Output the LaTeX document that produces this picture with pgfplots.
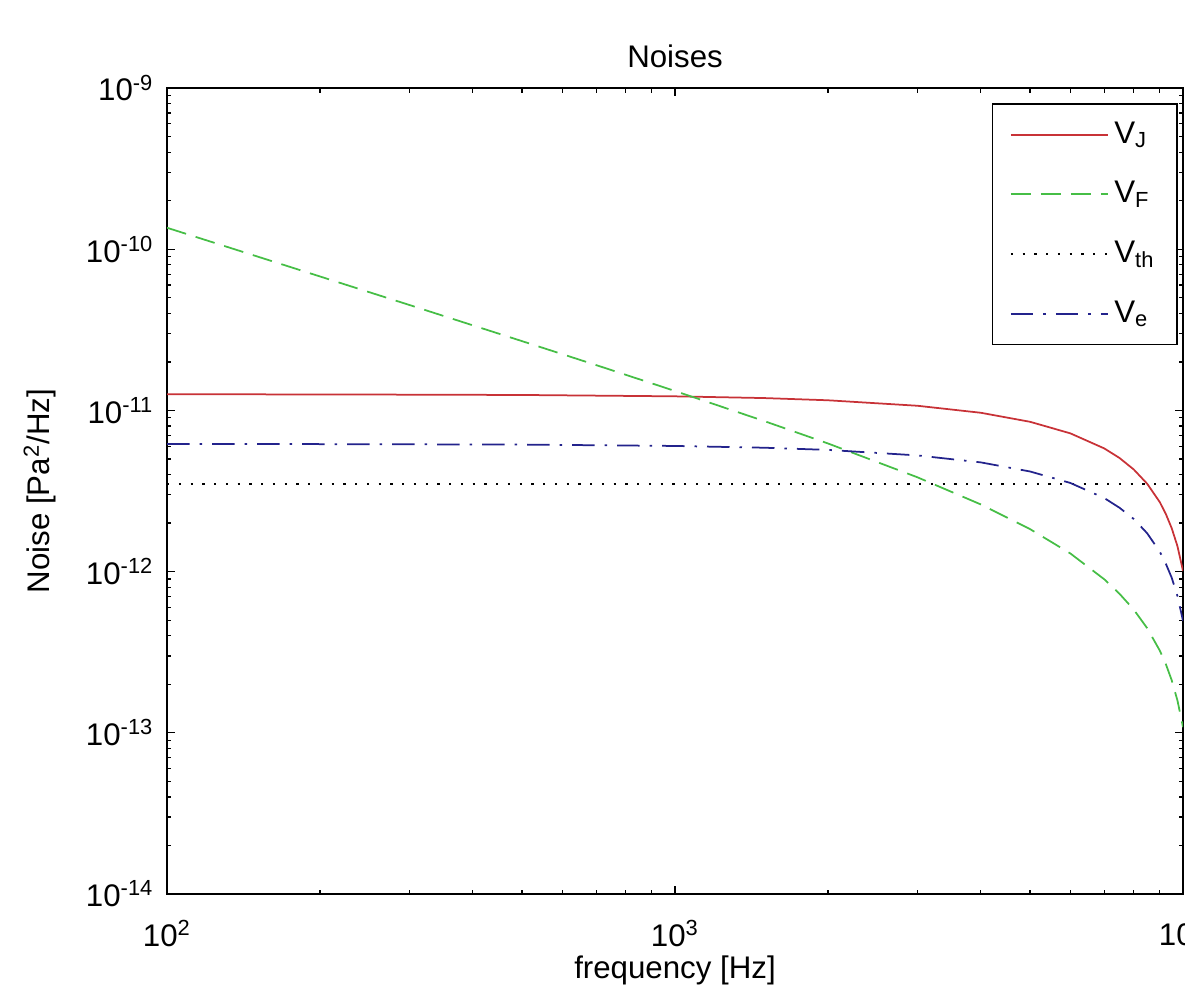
\documentclass[border=0pt]{standalone}
\usepackage{fontspec}
\setmainfont{Liberation Sans}
\usepackage{pgfplots}
\pgfplotsset{compat=1.18}

\definecolor{cred}{RGB}{200,50,55}
\definecolor{cgreen}{RGB}{70,190,70}
\definecolor{cblue}{RGB}{35,35,140}

\begin{document}
\fontsize{12.5}{15}\selectfont
\begin{tikzpicture}
\begin{axis}[name=ax, scale only axis, width=406.4pt, height=322.4pt,
  xmode=log, ymode=log, xmin=100, xmax=10000, ymin=1e-14, ymax=1e-9,
  xtick={100,1000,10000},
  xticklabels={10\textsuperscript{2},10\textsuperscript{3},10\textsuperscript{4}},
  ytick={1e-14,1e-13,1e-12,1e-11,1e-10,1e-9},
  yticklabels={10\textsuperscript{-14},10\textsuperscript{-13},10\textsuperscript{-12},10\textsuperscript{-11},10\textsuperscript{-10},10\textsuperscript{-9}},
  tick align=inside, xtick pos=both, ytick pos=both,
  major tick length=3.2pt, minor tick length=1.8pt,
  every tick/.style={black, line width=0.5pt},
  axis line style={line width=0.6pt},
  tick label style={font=\fontsize{12.5}{15}\selectfont},
  xticklabel style={yshift=-6pt},
  yticklabel style={xshift=-1pt},
  title={Noises},
  title style={at={(0.5,1)}, anchor=south, yshift=-2.2pt, font=\fontsize{12.5}{15}\selectfont},
  xlabel={frequency [Hz]},
  xlabel style={at={(0.5,0)}, anchor=center, yshift=-30.4pt, font=\fontsize{12.5}{15}\selectfont},
  ylabel={Noise [Pa\textsuperscript{2}/Hz]},
  ylabel style={at={(0,0.5)}, anchor=center, xshift=0pt, yshift=50.8pt, font=\fontsize{12.5}{15}\selectfont},
  legend style={at={(0.995,0.981)}, anchor=north east, draw=black, line width=0.6pt,
    fill=white, inner xsep=7pt, inner ysep=5pt, row sep=9.4pt,
    font=\fontsize{12.5}{15}\selectfont},
  legend cell align=left,
  legend image code/.code={\draw[#1] (0pt,0pt) -- (39pt,0pt);},
]
\addplot[cred, line width=0.7pt] coordinates {
(100,1.259e-11) (200,1.257e-11) (500,1.247e-11) (1000,1.223e-11) (1500,1.193e-11)
(2000,1.156e-11) (3000,1.069e-11) (4000,9.67e-12) (5000,8.50e-12) (6000,7.21e-12)
(7000,5.81e-12) (7500,5.07e-12) (8000,4.30e-12) (8500,3.51e-12) (9000,2.70e-12)
(9250,2.28e-12) (9500,1.86e-12) (9750,1.44e-12) (10000,1.01e-12)};
\addlegendentry{V\textsubscript{J}}
\addplot[cgreen, line width=0.7pt, dash pattern=on 8pt off 4pt] coordinates {
(100,1.359e-10) (150,9.05e-11) (200,6.78e-11) (300,4.51e-11) (500,2.69e-11)
(700,1.910e-11) (1000,1.320e-11) (1500,8.58e-12) (2000,6.24e-12) (3000,3.85e-12)
(4000,2.61e-12) (5000,1.835e-12) (6000,1.297e-12) (7000,8.96e-13) (7500,7.29e-13)
(8000,5.81e-13) (8500,4.46e-13) (9000,3.24e-13) (9250,2.67e-13) (9500,2.12e-13)
(9750,1.59e-13) (10000,1.085e-13)};
\addlegendentry{V\textsubscript{F}}
\addplot[black, line width=0.7pt, dash pattern=on 0.9pt off 3.8pt] coordinates {
(100,3.5e-12) (10000,3.5e-12)};
\addlegendentry{V\textsubscript{th}}
\addplot[cblue, line width=0.7pt, dash pattern=on 9pt off 4pt on 1pt off 4pt] coordinates {
(100,6.19e-12) (200,6.18e-12) (500,6.14e-12) (1000,6.02e-12) (1500,5.87e-12)
(2000,5.69e-12) (3000,5.26e-12) (4000,4.76e-12) (5000,4.18e-12) (6000,3.55e-12)
(7000,2.86e-12) (7500,2.49e-12) (8000,2.12e-12) (8500,1.73e-12) (9000,1.33e-12)
(9250,1.12e-12) (9500,9.17e-13) (9750,7.07e-13) (10000,4.95e-13)};
\addlegendentry{V\textsubscript{e}}
\end{axis}
\pgfresetboundingbox
\path[use as bounding box] (ax.south west) ++(-66.8pt,-38.8pt) rectangle ++(474pt,396.4pt);
\end{tikzpicture}
\end{document}
